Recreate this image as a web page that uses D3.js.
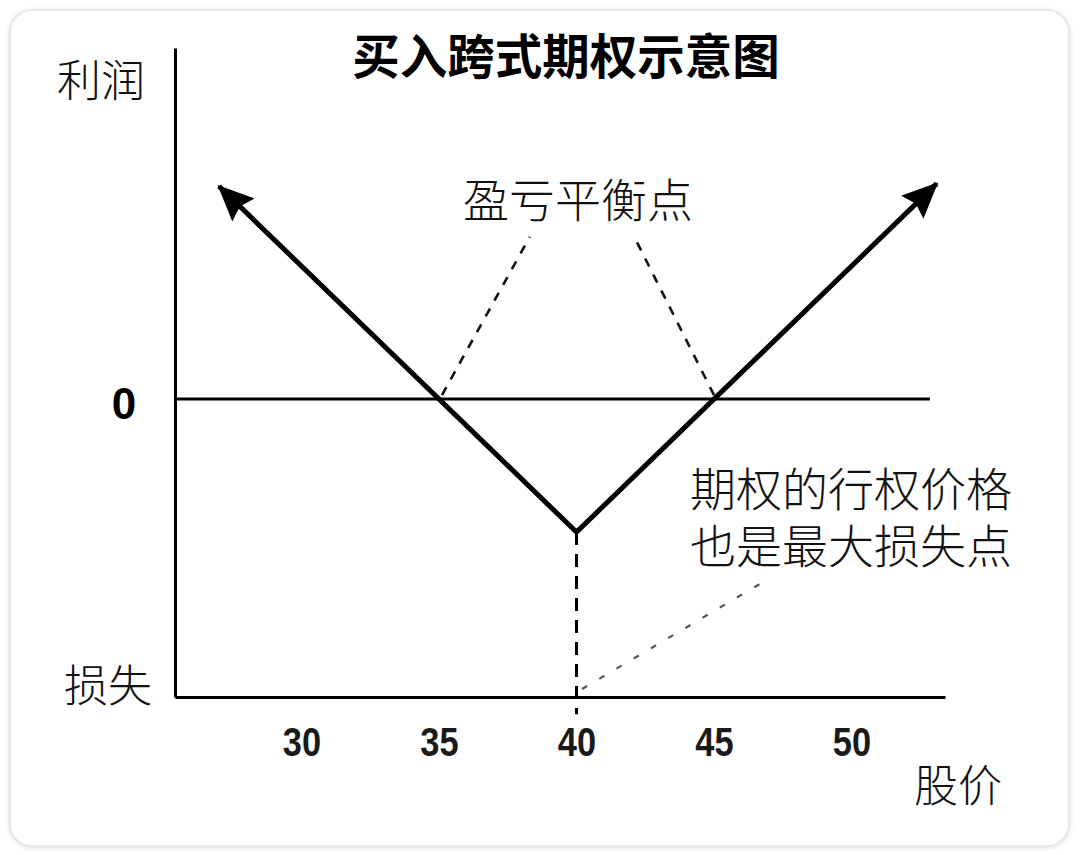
<!DOCTYPE html>
<html>
<head>
<meta charset="utf-8">
<script src="https://cdn.jsdelivr.net/npm/d3@7"></script>
<style>
  html, body { margin: 0; padding: 0; background: #ffffff; }
  svg { display: block; }
  .cjk { font-family: "Noto Sans CJK SC", "Noto Sans", sans-serif; }
</style>
</head>
<body>
<svg id="chart" width="1080" height="855"></svg>
<script>
// Long straddle: buy a call and a put, both struck at 40, total premium 5
const strike = 40;
const premium = 5;
const priceTicks = [30, 35, 40, 45, 50];
const priceDomain = [25.4, 53.4];
const profitDomain = [-11.2, 13.2];
const payoffPrices = [27, 40, 53.1];
const payoffProfits = payoffPrices.map(p => Math.abs(p - strike) - premium);
const breakEvens = [strike - premium, strike + premium];
const breakEvenLabelAnchors = [[38.3, 6.1], [42.1, 6.1]];
const zeroLineEnd = 52.85;
const strikeLineBottom = -11.85;
const strikeNote = [[40.2, -10.9], [46.75, -6.9]];

const titleText = "买入跨式期权示意图";
const yLabelTop = "利润";
const yLabelBottom = "损失";
const xLabel = "股价";
const breakEvenText = "盈亏平衡点";
const strikeTextLines = ["期权的行权价格", "也是最大损失点"];

const svg = d3.select("#chart");

// card background
const defs = svg.append("defs");
const shadow = defs.append("filter").attr("id", "cardShadow")
  .attr("x", "-5%").attr("y", "-5%").attr("width", "110%").attr("height", "110%");
shadow.append("feDropShadow").attr("dx", 0).attr("dy", 1).attr("stdDeviation", 2.5)
  .attr("flood-color", "#000").attr("flood-opacity", 0.14);
svg.append("rect")
  .attr("x", 10).attr("y", 10).attr("width", 1059).attr("height", 836)
  .attr("rx", 22).attr("fill", "#fff").attr("stroke", "#e2e2e2").attr("stroke-width", 1.5)
  .attr("filter", "url(#cardShadow)");

const x = d3.scaleLinear().domain(priceDomain).range([175, 945]);
const y = d3.scaleLinear().domain(profitDomain).range([697, 48]);

// arrowhead marker for the payoff line
defs.append("marker").attr("id", "arrow")
  .attr("markerUnits", "userSpaceOnUse")
  .attr("viewBox", "0 0 36 36")
  .attr("refX", 34).attr("refY", 18)
  .attr("markerWidth", 36).attr("markerHeight", 36)
  .attr("orient", "auto-start-reverse")
  .append("path").attr("d", "M0,2 L36,18 L0,34 L5,18 Z").attr("fill", "#000");

// y axis (profit)
svg.append("g").attr("transform", `translate(${x(priceDomain[0])},0)`)
  .call(d3.axisLeft(y).tickValues([]).tickSizeOuter(0))
  .call(g => g.select(".domain").attr("stroke", "#000").attr("stroke-width", 3));

// x axis (stock price)
const xAxis = svg.append("g").attr("transform", `translate(0,${y(profitDomain[0])})`)
  .call(d3.axisBottom(x).tickValues(priceTicks).tickSize(0).tickSizeOuter(0).tickPadding(44))
  .call(g => g.select(".domain").attr("stroke", "#000").attr("stroke-width", 3));
xAxis.selectAll(".tick text")
  .attr("dy", "0.36em")
  .attr("fill", "#1a1a1a")
  .attr("font-family", "'Liberation Sans', Arial, sans-serif")
  .attr("font-weight", "bold")
  .attr("font-size", 41)
  .attr("transform", "scale(0.84,1)");

// zero-profit line
svg.append("line")
  .attr("x1", x(priceDomain[0])).attr("x2", x(zeroLineEnd))
  .attr("y1", y(0)).attr("y2", y(0))
  .attr("stroke", "#000").attr("stroke-width", 3);

// break-even leader lines
breakEvens.forEach((be, i) => {
  svg.append("line")
    .attr("x1", x(be) + (i === 0 ? 3 : 0)).attr("y1", y(0) - 4)
    .attr("x2", x(breakEvenLabelAnchors[i][0])).attr("y2", y(breakEvenLabelAnchors[i][1]))
    .attr("stroke", "#111").attr("stroke-width", 2.6)
    .attr("stroke-dasharray", "9,9");
});

// strike price dashed drop line
svg.append("line")
  .attr("x1", x(strike)).attr("x2", x(strike))
  .attr("y1", y(-premium)).attr("y2", y(strikeLineBottom))
  .attr("stroke", "#000").attr("stroke-width", 3)
  .attr("stroke-dasharray", "13,9");

// note leader for the strike price
svg.append("line")
  .attr("x1", x(strikeNote[0][0])).attr("y1", y(strikeNote[0][1]))
  .attr("x2", x(strikeNote[1][0])).attr("y2", y(strikeNote[1][1]))
  .attr("stroke", "#555").attr("stroke-width", 2.2)
  .attr("stroke-dasharray", "6,14");

// payoff at expiry
const payoff = payoffPrices.map((p, i) => [p, payoffProfits[i]]);
svg.append("path")
  .datum(payoff)
  .attr("d", d3.line().x(d => x(d[0])).y(d => y(d[1])))
  .attr("fill", "none").attr("stroke", "#000").attr("stroke-width", 5)
  .attr("stroke-linejoin", "miter")
  .attr("marker-start", "url(#arrow)").attr("marker-end", "url(#arrow)");

// texts
svg.append("text").attr("class", "cjk")
  .attr("x", 566).attr("y", 53).attr("dominant-baseline", "central")
  .attr("text-anchor", "middle").attr("font-size", 47.5).attr("font-weight", "bold")
  .attr("fill", "#000").text(titleText);

svg.append("text").attr("class", "cjk")
  .attr("x", 101).attr("y", 78).attr("dominant-baseline", "central")
  .attr("text-anchor", "middle").attr("font-size", 44).attr("font-weight", 300)
  .attr("fill", "#111").text(yLabelTop);

svg.append("text").attr("class", "cjk")
  .attr("x", 108).attr("y", 683).attr("dominant-baseline", "central")
  .attr("text-anchor", "middle").attr("font-size", 44).attr("font-weight", 300)
  .attr("fill", "#111").text(yLabelBottom);

svg.append("text")
  .attr("x", 124).attr("y", y(0) + 4).attr("dominant-baseline", "central")
  .attr("text-anchor", "middle").attr("font-size", 44).attr("font-weight", "bold")
  .attr("font-family", "'Liberation Sans', Arial, sans-serif")
  .attr("fill", "#000").text("0");

svg.append("text").attr("class", "cjk")
  .attr("x", 958).attr("y", 783).attr("dominant-baseline", "central")
  .attr("text-anchor", "middle").attr("font-size", 44).attr("font-weight", 300)
  .attr("fill", "#111").text(xLabel);

svg.append("text").attr("class", "cjk")
  .attr("x", 578).attr("y", 197).attr("dominant-baseline", "central")
  .attr("text-anchor", "middle").attr("font-size", 46).attr("font-weight", 300)
  .attr("fill", "#111").text(breakEvenText);

// two-line note about the strike price, kept in one text block
const note = svg.append("text").attr("class", "cjk")
  .attr("text-anchor", "middle").attr("font-size", 46).attr("font-weight", 300)
  .attr("fill", "#111");
strikeTextLines.forEach((line, i) => {
  note.append("tspan")
    .attr("x", 851).attr("y", 486 + i * 57).attr("dominant-baseline", "central")
    .text(line);
});
</script>
</body>
</html>
